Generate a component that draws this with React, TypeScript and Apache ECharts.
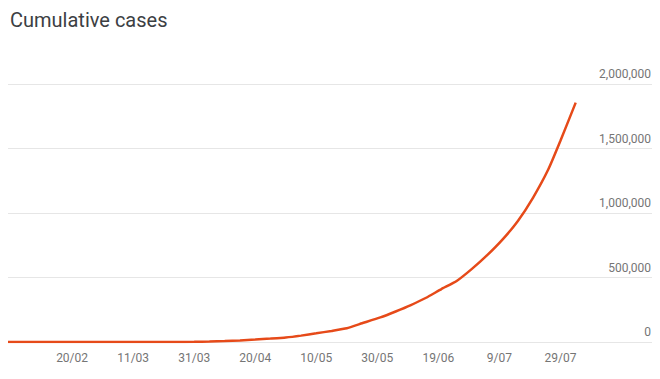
import React, { useEffect, useRef } from "react";
import * as echarts from "echarts";

const titleText = "Cumulative cases";

// Axis date range (day/month), 2020
const axisStart = "2020-01-30";
const axisEnd = "2020-08-28";

const pointDates = [
  "30/01", "04/02", "02/03", "04/03", "10/03", "15/03", "20/03", "25/03", "31/03",
  "05/04", "10/04", "15/04", "20/04", "25/04", "30/04", "05/05", "10/05", "15/05",
  "20/05", "25/05", "31/05", "05/06", "10/06", "15/06", "20/06", "25/06", "30/06",
  "05/07", "10/07", "15/07", "20/07", "25/07", "29/07", "03/08",
];
const pointValues = [
  1, 3, 5, 28, 62, 114, 250, 657, 1397,
  4067, 7600, 12380, 18539, 26283, 34863, 49391, 67152, 85940,
  106750, 144950, 190535, 236657, 286579, 343091, 410461, 473105, 566840,
  673165, 793802, 936181, 1118043, 1336861, 1560000, 1855745,
];

const yTicks = [0, 500000, 1000000, 1500000, 2000000];
const firstLabelIndex = 21; // 20/02
const labelStep = 20;
const lastLabelIndex = 181; // 29/07

function buildDays(): string[] {
  const out: string[] = [];
  const d = new Date(axisStart + "T00:00:00Z");
  const end = new Date(axisEnd + "T00:00:00Z");
  while (d.getTime() <= end.getTime()) {
    const dd = String(d.getUTCDate()).padStart(2, "0");
    const mm = String(d.getUTCMonth() + 1).padStart(2, "0");
    out.push(dd + "/" + mm);
    d.setUTCDate(d.getUTCDate() + 1);
  }
  return out;
}

export default function App() {
  const ref = useRef<HTMLDivElement>(null);
  useEffect(() => {
    if (!ref.current) return;
    const chart = echarts.init(ref.current, null, { renderer: "svg" });
    const days = buildDays();
    const data: (number | null)[] = days.map(() => null);
    pointDates.forEach((pd, i) => {
      const idx = days.indexOf(pd);
      if (idx >= 0) data[idx] = pointValues[i];
    });
    chart.setOption({
      animation: false,
      backgroundColor: "#ffffff",
      title: {
        text: titleText,
        left: 5,
        top: 5,
        textStyle: {
          fontFamily: "Roboto",
          fontSize: 20,
          fontWeight: "normal",
          color: "#3c4043",
        },
      },
      grid: { left: 8, right: 8, top: 84, bottom: 37, containLabel: false },
      xAxis: {
        type: "category",
        data: days,
        boundaryGap: false,
        axisLine: { show: false },
        axisTick: { show: false },
        splitLine: { show: false },
        axisLabel: {
          interval: (index: number) =>
            index >= firstLabelIndex &&
            index <= lastLabelIndex &&
            (index - firstLabelIndex) % labelStep === 0,
          formatter: (v: string) => {
            const [dd, mm] = v.split("/");
            return String(parseInt(dd, 10)) + "/" + mm;
          },
          color: "#757575",
          fontFamily: "Roboto",
          fontSize: 12,
          margin: 10,
        },
      },
      yAxis: {
        type: "value",
        position: "right",
        min: yTicks[0],
        max: yTicks[yTicks.length - 1],
        interval: yTicks[1] - yTicks[0],
        axisLine: { show: false },
        axisTick: { show: false },
        splitLine: { lineStyle: { color: "#e6e6e6", width: 1 } },
        axisLabel: {
          inside: true,
          margin: 1,
          verticalAlign: "bottom",
          padding: [0, 0, 4, 0],
          color: "#757575",
          fontFamily: "Roboto",
          fontSize: 12,
          formatter: (v: number) => v.toLocaleString("en-US"),
        },
      },
      series: [
        {
          type: "line",
          data,
          connectNulls: true,
          showSymbol: false,
          symbol: "none",
          smooth: 0.15,
          lineStyle: { color: "#e64a19", width: 2.5 },
        },
      ],
    });
    return () => chart.dispose();
  }, []);
  return <div ref={ref} style={{ width: 660, height: 379, margin: -8 }} />;
}
